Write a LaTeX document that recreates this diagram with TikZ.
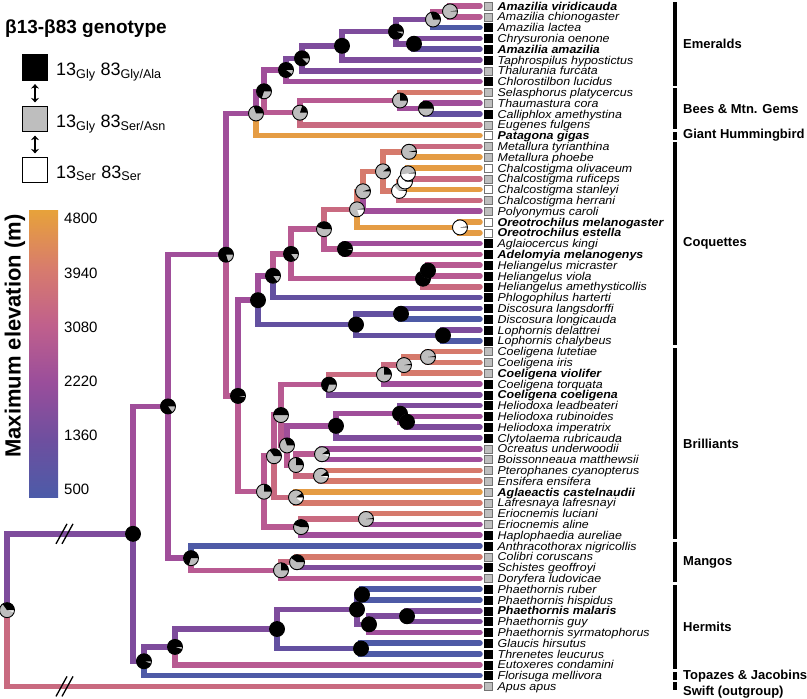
\documentclass[tikz,border=0pt]{standalone}
\usepackage{fontspec}
\setmainfont{Liberation Sans}
\newfontfamily\tipfont[FakeStretch=1.09]{Liberation Sans}
\usetikzlibrary{arrows.meta,calc}
\definecolor{Elev1}{HTML}{4E5AA6}
\definecolor{Elev2}{HTML}{6350A0}
\definecolor{Elev3}{HTML}{7E4C9C}
\definecolor{Elev4}{HTML}{A04E9A}
\definecolor{Elev5}{HTML}{B85A92}
\definecolor{Elev6}{HTML}{C96A80}
\definecolor{Elev7}{HTML}{D67A6C}
\definecolor{Elev8}{HTML}{E59C44}
\definecolor{BarA}{HTML}{4C5BA8}
\definecolor{BarB}{HTML}{6E4F9F}
\definecolor{BarC}{HTML}{9A4E9B}
\definecolor{BarD}{HTML}{C0608C}
\definecolor{BarE}{HTML}{D87C6C}
\definecolor{BarF}{HTML}{E7A23A}
\definecolor{Gen}{HTML}{BEBEBE}
\pgfdeclareverticalshading{elevbar}{100bp}{color(0bp)=(BarA); color(25bp)=(BarA); color(35bp)=(BarB); color(45bp)=(BarC); color(55bp)=(BarD); color(65bp)=(BarE); color(75bp)=(BarF); color(100bp)=(BarF)}
% node of the tree: name, x, two children (y is their midpoint)
\newcommand{\nd}[4]{%
  \path ($(#3)!0.5!(#4)$) coordinate (tmp);
  \coordinate (#1) at (#2,0 |- tmp);
}
% genotype pie: node, black share, grey share (white is the rest)
\newcommand{\genopie}[3]{%
  \fill[white] (#1) circle[radius=7.5pt];
  \fill[Gen] (#1) -- ++(0:7.5pt) arc[start angle=0,end angle={360*(#2+#3)},radius=7.5pt] -- cycle;
  \fill[black] (#1) -- ++(0:7.5pt) arc[start angle=0,end angle={360*#2},radius=7.5pt] -- cycle;
  \draw[line width=0.9pt] (#1) circle[radius=7.5pt];
}

\begin{document}
\begin{tikzpicture}[x=1pt,y=-1pt,
    edge/.style={line width=5.5pt,line cap=round},
    tiplab/.style={font=\tipfont\fontsize{11.4}{12}\selectfont\itshape,inner sep=0pt,anchor=base west},
    cladelab/.style={font=\bfseries\fontsize{13}{14}\selectfont,inner sep=0pt,anchor=west},
    sqB/.style={draw=black,fill=black,minimum size=8pt,inner sep=0pt,line width=0.5pt},
    sqG/.style={draw=black!55,fill=Gen,minimum size=8pt,inner sep=0pt,line width=0.5pt},
    sqW/.style={draw=black!55,fill=white,minimum size=8pt,inner sep=0pt,line width=0.5pt},
    legsq/.style={draw=black,line width=1.2pt,minimum size=25pt,inner sep=0pt},
    legtxt/.style={font=\fontsize{18}{20}\selectfont,inner sep=0pt,anchor=base west},
    legarrow/.style={line width=2.2pt,{Stealth[length=4.5pt,width=8pt]}-{Stealth[length=4.5pt,width=8pt]}},
    barlab/.style={font=\fontsize{15}{16}\selectfont,inner sep=0pt,anchor=west},
    brk/.style={line width=1.3pt}]
\useasboundingbox (0,0) rectangle (807,699);

% tips
\foreach \i in {1,...,64} \coordinate (t\i) at (480,{6+10.8*(\i-1)});

% emeralds, bees, giant hummingbird
\nd{em12}{450}{t1}{t2}
\nd{em13}{433}{em12}{t3}
\nd{em45}{414}{t4}{t5}
\nd{em15}{396}{em13}{em45}
\nd{em16}{342}{em15}{t6}
\nd{em17}{302}{em16}{t7}
\nd{em}{286}{em17}{t8}
\nd{be1011}{426}{t10}{t11}
\nd{be911}{400}{t9}{be1011}
\nd{be}{300}{be911}{t12}
\nd{eb}{264}{em}{be}
\nd{ebp}{256}{eb}{t13}
% coquettes
\nd{mt}{409}{t14}{t15}
\nd{ch1617}{408}{t16}{t17}
\nd{ch1618}{405}{ch1617}{t18}
\nd{ch}{399}{ch1618}{t19}
\nd{mc}{383}{mt}{ch}
\nd{mcp}{363}{mc}{t20}
\nd{ore}{460}{t21}{t22}
\nd{mco}{357}{mcp}{ore}
\nd{ag}{345}{t23}{t24}
\nd{co1}{324}{mco}{ag}
\nd{he2526}{428}{t25}{t26}
\nd{he}{423}{he2526}{t27}
\nd{co2}{291}{co1}{he}
\nd{co3}{273}{co2}{t28}
\nd{ds}{401}{t29}{t30}
\nd{lo}{443}{t31}{t32}
\nd{dl}{356}{ds}{lo}
\nd{coq}{258}{co3}{dl}
% brilliants
\nd{ce3334}{428}{t33}{t34}
\nd{ce3335}{404}{ce3334}{t35}
\nd{ce3336}{384}{ce3335}{t36}
\nd{ce}{329}{ce3336}{t37}
\nd{hd3940}{407}{t39}{t40}
\nd{hd}{400}{t38}{hd3940}
\nd{hc}{336}{hd}{t41}
\nd{oc}{322}{t42}{t43}
\nd{pe}{321}{t44}{t45}
\nd{op}{296}{oc}{pe}
\nd{br3}{287}{hc}{op}
\nd{br2}{281}{ce}{br3}
\nd{al}{296}{t46}{t47}
\nd{br1}{274}{br2}{al}
\nd{er}{366}{t48}{t49}
\nd{erh}{301}{er}{t50}
\nd{bri}{264}{br1}{erh}
\nd{cb}{238}{coq}{bri}
\nd{up}{226}{ebp}{cb}
% mangos
\nd{cs}{297}{t52}{t53}
\nd{csd}{281}{cs}{t54}
\nd{mg}{191}{t51}{csd}
\nd{nh}{168}{up}{mg}
% hermits, topazes
\nd{ph5556}{362}{t55}{t56}
\nd{ph5758}{407}{t57}{t58}
\nd{ph5759}{369}{ph5758}{t59}
\nd{ph}{357}{ph5556}{ph5759}
\nd{gt}{361}{t60}{t61}
\nd{hr1}{277}{ph}{gt}
\nd{hr}{175}{hr1}{t62}
\nd{ht}{144}{hr}{t63}
\nd{hb}{133}{nh}{ht}
\nd{root}{7}{hb}{t64}

% branches
\foreach \p/\c/\k in {em12/t1/5,em12/t2/5,em13/em12/5,em13/t3/1,em45/t4/3,em45/t5/2,
    em15/em13/3,em15/em45/3,em16/em15/3,em16/t6/3,em17/em16/3,em17/t7/3,em/em17/3,em/t8/4,
    be1011/t10/4,be1011/t11/2,be911/t9/7,be911/be1011/4,be/be911/5,be/t12/6,
    eb/em/4,eb/be/5,ebp/eb/4,ebp/t13/8,
    mt/t14/6,mt/t15/8,ch1617/t16/8,ch1617/t17/6,ch1618/ch1617/7,ch1618/t18/8,ch/ch1618/7,ch/t19/6,
    mc/mt/7,mc/ch/7,mcp/mc/7,mcp/t20/4,ore/t21/8,ore/t22/8,mco/mcp/7,mco/ore/8,
    ag/t23/4,ag/t24/5,co1/mco/6,co1/ag/5,he2526/t25/5,he2526/t26/5,he/he2526/5,he/t27/6,
    co2/co1/5,co2/he/5,co3/co2/5,co3/t28/2,ds/t29/2,ds/t30/1,lo/t31/3,lo/t32/1,
    dl/ds/2,dl/lo/2,coq/co3/4,coq/dl/2,
    ce3334/t33/7,ce3334/t34/7,ce3335/ce3334/7,ce3335/t35/7,ce3336/ce3335/6,ce3336/t36/4,
    ce/ce3336/6,ce/t37/3,hd3940/t39/4,hd3940/t40/3,hd/t38/3,hd/hd3940/4,hc/hd/4,hc/t41/3,
    oc/t42/4,oc/t43/4,pe/t44/7,pe/t45/7,op/oc/5,op/pe/6,br3/hc/4,br3/op/5,br2/ce/5,br2/br3/5,
    al/t46/8,al/t47/7,br1/br2/5,br1/al/6,er/t48/7,er/t49/4,erh/er/6,erh/t50/4,
    bri/br1/5,bri/erh/5,cb/coq/4,cb/bri/5,up/ebp/4,up/cb/5,
    cs/t52/7,cs/t53/3,csd/cs/6,csd/t54/5,mg/t51/1,mg/csd/5,nh/up/4,nh/mg/4,
    ph5556/t55/1,ph5556/t56/1,ph5758/t57/3,ph5758/t58/3,ph5759/ph5758/3,ph5759/t59/4,
    ph/ph5556/2,ph/ph5759/3,gt/t60/1,gt/t61/1,hr1/ph/3,hr1/gt/2,hr/hr1/3,hr/t62/5,
    ht/hr/3,ht/t63/1,hb/nh/4,hb/ht/3,root/hb/3,root/t64/6}
  \draw[edge,Elev\k] (\p) |- (\c);

% broken root branches
\coordinate (brk1) at (65,0 |- hb);
\coordinate (brk2) at (65,0 |- t64);
\foreach \b in {brk1,brk2}{
  \draw[brk] ($(\b)+(-9,10)$) -- ++(11,-20);
  \draw[brk] ($(\b)+(-3,10)$) -- ++(11,-20);
}

% ancestral genotype pies
\foreach \nn/\fb/\fg in {root/.35/.6,hb/1/0,ht/.95/.05,hr/.95/.05,hr1/1/0,ph/1/0,ph5556/1/0,
    ph5758/1/0,ph5759/1/0,gt/1/0,nh/.85/.15,mg/.7/.3,csd/.25/.75,cs/.4/.6,up/.8/.2,
    ebp/.3/.7,eb/.7/.3,em/.9/.1,em17/.88/.12,em16/1/0,em15/.95/.05,em13/.3/.7,em12/.02/.98,
    em45/1/0,be/.2/.8,be911/.25/.75,be1011/.5/.5,cb/.97/.03,coq/1/0,co3/.85/.15,co2/.85/.15,
    co1/.45/.55,mco/.02/.78,mcp/.05/.95,mc/.1/.9,mt/.03/.97,ch/.02/.35,ch1618/.02/.3,
    ch1617/.02/.5,ore/.02/0,ag/.97/.03,he/1/0,he2526/1/0,dl/1/0,ds/1/0,lo/1/0,
    bri/.25/.75,br1/.35/.65,br2/.5/.5,ce/.7/.3,ce3336/.25/.75,ce3335/.03/.97,ce3334/.02/.98,
    br3/.3/.7,hc/1/0,hd/1/0,hd3940/1/0,op/.25/.75,oc/.1/.85,pe/.1/.85,al/.1/.78,
    erh/.45/.55,er/.02/.98}
  {\genopie{\nn}{\fb}{\fg}}

% tip genotypes and names
\foreach \i/\g/\nm in {1/G/{\textbf{Amazilia viridicauda}},2/G/Amazilia chionogaster,
    3/B/Amazilia lactea,4/B/Chrysuronia oenone,5/B/{\textbf{Amazilia amazilia}},
    6/B/Taphrospilus hypostictus,7/G/Thalurania furcata,8/B/Chlorostilbon lucidus,
    9/G/Selasphorus platycercus,10/G/Thaumastura cora,11/B/Calliphlox amethystina,
    12/G/Eugenes fulgens,13/W/{\textbf{Patagona gigas}},14/G/Metallura tyrianthina,
    15/G/Metallura phoebe,16/W/Chalcostigma olivaceum,17/G/Chalcostigma ruficeps,
    18/W/Chalcostigma stanleyi,19/G/Chalcostigma herrani,20/G/Polyonymus caroli,
    21/W/{\textbf{Oreotrochilus melanogaster}},22/W/{\textbf{Oreotrochilus estella}},
    23/B/Aglaiocercus kingi,24/B/{\textbf{Adelomyia melanogenys}},25/B/Heliangelus micraster,
    26/B/Heliangelus viola,27/B/Heliangelus amethysticollis,28/B/Phlogophilus harterti,
    29/B/Discosura langsdorffi,30/B/Discosura longicauda,31/B/Lophornis delattrei,
    32/B/Lophornis chalybeus,33/G/Coeligena lutetiae,34/G/Coeligena iris,
    35/G/{\textbf{Coeligena violifer}},36/B/Coeligena torquata,37/B/{\textbf{Coeligena coeligena}},
    38/B/Heliodoxa leadbeateri,39/B/Heliodoxa rubinoides,40/B/Heliodoxa imperatrix,
    41/B/Clytolaema rubricauda,42/G/Ocreatus underwoodii,43/G/Boissonneaua matthewsii,
    44/G/Pterophanes cyanopterus,45/G/Ensifera ensifera,46/G/{\textbf{Aglaeactis castelnaudii}},
    47/G/Lafresnaya lafresnayi,48/G/Eriocnemis luciani,49/G/Eriocnemis aline,
    50/B/Haplophaedia aureliae,51/B/Anthracothorax nigricollis,52/G/Colibri coruscans,
    53/B/Schistes geoffroyi,54/G/Doryfera ludovicae,55/B/Phaethornis ruber,
    56/B/Phaethornis hispidus,57/B/{\textbf{Phaethornis malaris}},58/B/Phaethornis guy,
    59/B/Phaethornis syrmatophorus,60/B/Glaucis hirsutus,61/B/Threnetes leucurus,
    62/B/Eutoxeres condamini,63/B/Florisuga mellivora,64/G/Apus apus}{
  \node[sq\g] (sq\i) at ($(t\i)+(8,0)$) {};
  \node[tiplab] (lab\i) at ($(t\i)+(17.5,4.1)$) {\nm};
}

% clade bars
\foreach \a/\b/\dy/\lab in {1/8/0/Emeralds,9/12/0/{Bees \& Mtn. Gems},13/13/0/Giant Hummingbird,
    14/32/0/Coquettes,33/50/0/Brilliants,51/54/0/Mangos,55/62/0/Hermits,
    63/63/1/{Topazes \& Jacobins},64/64/5.5/{Swift (outgroup)}}{
  \fill ($(t\a)+(193,-4)$) rectangle ($(t\b)+(197,4)$);
  \node[cladelab] (cl\a) at ($(t\a)!.5!(t\b)+(203,\dy)$) {\lab};
}

% legend
\node[anchor=base west,font=\bfseries\fontsize{19}{20}\selectfont,inner sep=0pt] (title) at (5,33) {β13-β83 genotype};
\node[legsq,fill=black] (lgb) at (35,67.5) {};
\node[legsq,fill=Gen] (lgg) at (35,119) {};
\node[legsq,fill=white] (lgw) at (35,170) {};
\draw[legarrow] ($(lgb.south)+(0,3.5)$) -- ($(lgg.north)+(0,-3.5)$);
\draw[legarrow] ($(lgg.south)+(0,3.5)$) -- ($(lgw.north)+(0,-3.5)$);
\node[legtxt] (lgbt) at (56,75) {13\textsubscript{Gly} 83\textsubscript{Gly/Ala}};
\node[legtxt] (lggt) at (56,127) {13\textsubscript{Gly} 83\textsubscript{Ser/Asn}};
\node[legtxt] (lgwt) at (56,178) {13\textsubscript{Ser} 83\textsubscript{Ser}};

% elevation colour bar
\shade[shading=elevbar] (29,497) rectangle (58,210);
\foreach \v/\yy in {4800/218,3940/273,3080/327,2220/381,1360/435,500/489}
  \node[barlab] (bar\v) at (64,\yy) {\v};
\node[rotate=90,font=\bfseries\fontsize{22}{24}\selectfont] (bartitle) at (15,336) {Maximum elevation (m)};
\end{tikzpicture}
\end{document}
